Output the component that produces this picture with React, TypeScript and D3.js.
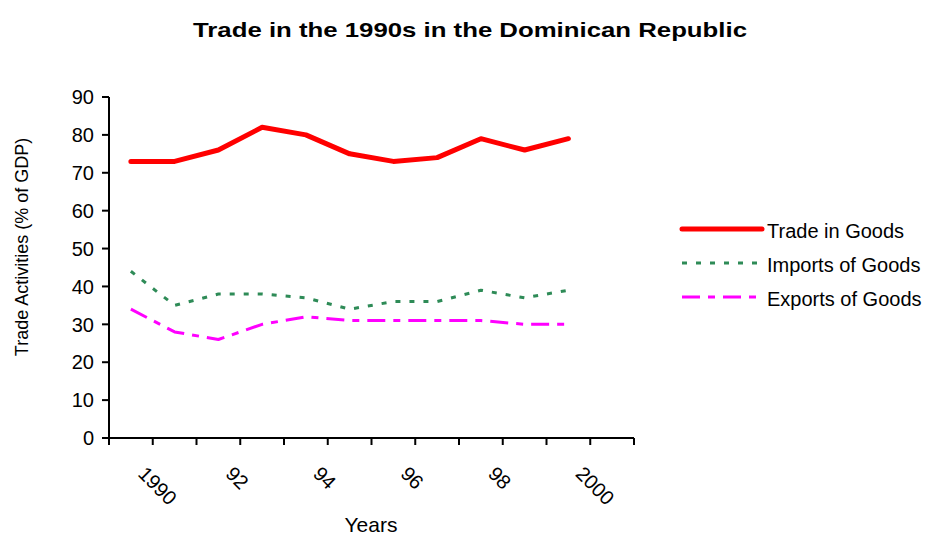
import React from "react";
import * as d3 from "d3";

const years = ["1990", "1991", "1992", "1993", "1994", "1995", "1996", "1997", "1998", "1999", "2000", "2001"];
const tickLabels = ["1990", "92", "94", "96", "98", "2000"];
const tickLabelYears = ["1990", "1992", "1994", "1996", "1998", "2000"];
const yTicks = [0, 10, 20, 30, 40, 50, 60, 70, 80, 90];

const tradeInGoods = [73, 73, 76, 82, 80, 75, 73, 74, 79, 76, 79];
const importsOfGoods = [44, 35, 38, 38, 37, 34, 36, 36, 39, 37, 39];
const exportsOfGoods = [34, 28, 26, 30, 32, 31, 31, 31, 31, 30, 30];

const seriesNames = ["Trade in Goods", "Imports of Goods", "Exports of Goods"];
const seriesColors = ["#FF0000", "#2E8B57", "#FF00FF"];

const W = 928;
const H = 538;
const FONT = "'Liberation Sans', Arial, sans-serif";

export default function App() {
  const x = d3.scaleBand<string>().domain(years).range([109, 634]).padding(0);
  const y = d3.scaleLinear().domain([0, 90]).range([438, 97]);
  const cx = (i: number) => (x(years[i]) as number) + x.bandwidth() / 2;

  const line = d3
    .line<number>()
    .x((_, i) => cx(i))
    .y((d) => y(d));

  const series = [
    { name: seriesNames[0], values: tradeInGoods, color: seriesColors[0], width: 5, dash: "none", cap: "round" },
    { name: seriesNames[1], values: importsOfGoods, color: seriesColors[1], width: 3, dash: "5,9", cap: "butt" },
    { name: seriesNames[2], values: exportsOfGoods, color: seriesColors[2], width: 3, dash: "18,8,7,8", cap: "butt" },
  ];

  const boundaries = years.map((yr) => x(yr) as number).concat([634]);

  return (
    <svg width={W} height={H} style={{ position: "absolute", left: 0, top: 0, background: "#fff" }} fontFamily={FONT}>
      <rect x={0} y={0} width={W} height={H} fill="#fff" />
      <text x={470} y={37} textAnchor="middle" fontSize={21} fontWeight="bold" textLength={554} lengthAdjust="spacingAndGlyphs">
        Trade in the 1990s in the Dominican Republic
      </text>

      {/* Y axis */}
      <line x1={109} x2={109} y1={y(90)} y2={y(0)} stroke="#000" strokeWidth={2} />
      {yTicks.map((t) => (
        <g key={t}>
          <line x1={102} x2={109} y1={y(t)} y2={y(t)} stroke="#000" strokeWidth={2} />
          <text x={94} y={y(t)} dy="0.36em" textAnchor="end" fontSize={20}>
            {t}
          </text>
        </g>
      ))}

      {/* X axis */}
      <line x1={109} x2={634} y1={y(0)} y2={y(0)} stroke="#000" strokeWidth={2} />
      {boundaries.map((b, i) => (
        <line key={i} x1={b} x2={b} y1={y(0)} y2={y(0) + 7} stroke="#000" strokeWidth={2} />
      ))}
      {tickLabels.map((lab, i) => {
        const idx = years.indexOf(tickLabelYears[i]);
        const px = cx(idx) + 6;
        return (
          <text key={lab} transform={`translate(${px},475) rotate(45)`} fontSize={20}>
            {lab}
          </text>
        );
      })}

      <text x={371} y={532} textAnchor="middle" fontSize={21}>
        Years
      </text>
      <text transform={`translate(28,247) rotate(-90)`} textAnchor="middle" fontSize={18}>
        Trade Activities (% of GDP)
      </text>

      {/* Lines */}
      {series
        .slice()
        .reverse()
        .map((s) => (
          <path
            key={s.name}
            d={line(s.values) as string}
            fill="none"
            stroke={s.color}
            strokeWidth={s.width}
            strokeDasharray={s.dash}
            strokeLinejoin="round"
            strokeLinecap={s.cap as any}
          />
        ))}

      {/* Legend */}
      {series.map((s, i) => {
        const ly = 229 + i * 34;
        return (
          <g key={s.name}>
            <line
              x1={682}
              x2={762}
              y1={ly}
              y2={ly}
              stroke={s.color}
              strokeWidth={s.width}
              strokeDasharray={s.dash}
              strokeLinecap={s.cap as any}
            />
            <text x={767} y={ly + 9} fontSize={20}>
              {s.name}
            </text>
          </g>
        );
      })}
    </svg>
  );
}
